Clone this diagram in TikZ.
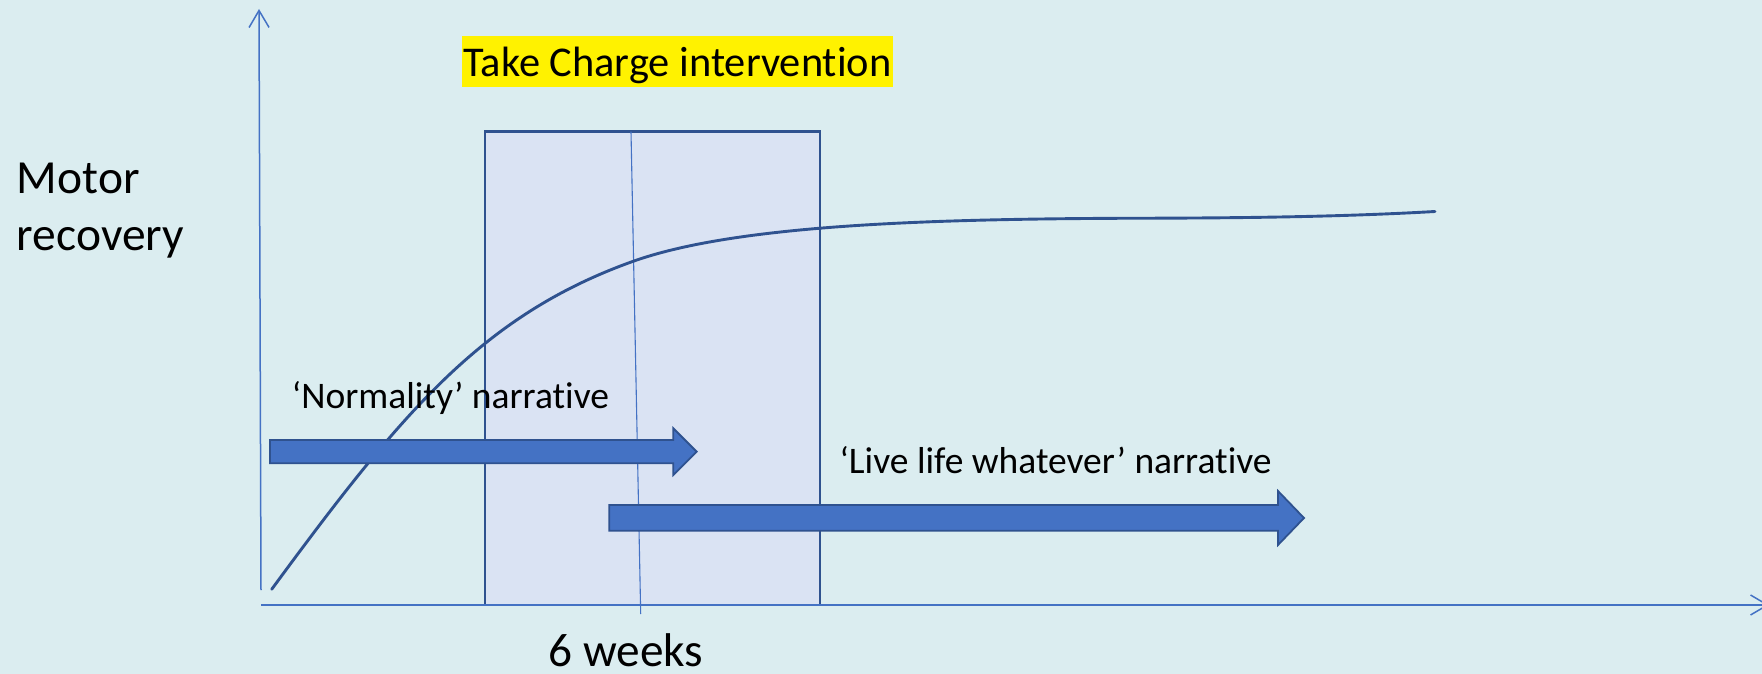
\documentclass[tikz,border=0pt]{standalone}
\usepackage{fontspec}
\setmainfont{Carlito}[Ligatures=NoCommon]
\usetikzlibrary{arrows.meta}
\definecolor{bgcol}{RGB}{219,237,240}
\definecolor{axiscol}{RGB}{68,114,196}
\definecolor{darkblue}{RGB}{47,82,143}
\definecolor{boxfill}{RGB}{218,227,243}
\definecolor{arrowfill}{RGB}{68,114,196}
\tikzset{
  axisline/.style={draw=axiscol, line width=1.5pt, -{Straight Barb[length=17pt,width=20pt,line width=1.5pt]}},
  blockarrow/.style={fill=arrowfill, draw=darkblue, line width=1.8pt, line join=miter},
  lbl/.style={inner sep=0pt, anchor=base west, text=black},
  narr/.style={lbl, font=\fontsize{37.5}{45}\selectfont},
  axislbl/.style={lbl, font=\fontsize{47.5}{57}\selectfont},
}
\begin{document}
\begin{tikzpicture}[x=1pt,y=-1pt]
  % canvas
  \fill[bgcol] (0,0) rectangle (1762,674);
  \useasboundingbox (0,0) rectangle (1762,674);

  % intervention window
  \filldraw[fill=boxfill, draw=darkblue, line width=2.6pt] (485,131.7) rectangle (820,605);
  % six-week marker
  \coordinate (sixtop) at (631,131.7);
  \coordinate (sixbot) at (640.7,614);
  \draw[axiscol, line width=1.1pt] (sixtop) -- (sixbot);

  % axes
  \coordinate (ybot) at (261,590);
  \coordinate (ytop) at (259,9);
  \coordinate (xleft) at (261,605);
  \coordinate (xright) at (1769,605);
  \draw[axisline] (ybot) -- (ytop);
  \draw[axisline] (xleft) -- (xright);

  % recovery curve
  \coordinate (c0) at (271.7,589.3);
  \coordinate (c1) at (632,261.7);
  \coordinate (c2) at (1117,218.3);
  \coordinate (c3) at (1435,211.5);
  \draw[darkblue, line width=2.9pt, line cap=round]
    (c0) .. controls (401.7,412.3) and (482,315.7) .. (c1)
         .. controls (732,225.7) and (917,219.3) .. (c2)
         .. controls (1220,218.1) and (1330,217.5) .. (c3);

  % narrative arrows
  \path[blockarrow] (270,440) -- (673.3,440) -- (673.3,428.3) -- (696.7,451.7)
    -- (673.3,475) -- (673.3,463.3) -- (270,463.3) -- cycle;
  \path[blockarrow] (609.2,505) -- (1278,505) -- (1278,491) -- (1304,518)
    -- (1278,545) -- (1278,530.7) -- (609.2,530.7) -- cycle;

  % labels
  \node[fill=yellow, inner sep=0pt, minimum width=431pt, text height=40.7pt, text depth=10pt,
        anchor=base, font=\fontsize{42.4}{51}\selectfont] (title) at (677.5,76.7) {Take Charge intervention};
  \node[axislbl] (motor) at (16.7,193.3) {Motor};
  \node[axislbl] (recov) at (16.7,250) {recovery};
  \node[narr] (normal) at (291.7,408.3) {‘Normality’ narrative};
  \node[narr] (live) at (839.4,473.3) {‘Live life whatever’ narrative};
  \node[lbl, anchor=base, text depth=0pt, font=\fontsize{47.3}{57}\selectfont] (weeks) at (626,666.7) {6 weeks};
\end{tikzpicture}
\end{document}
